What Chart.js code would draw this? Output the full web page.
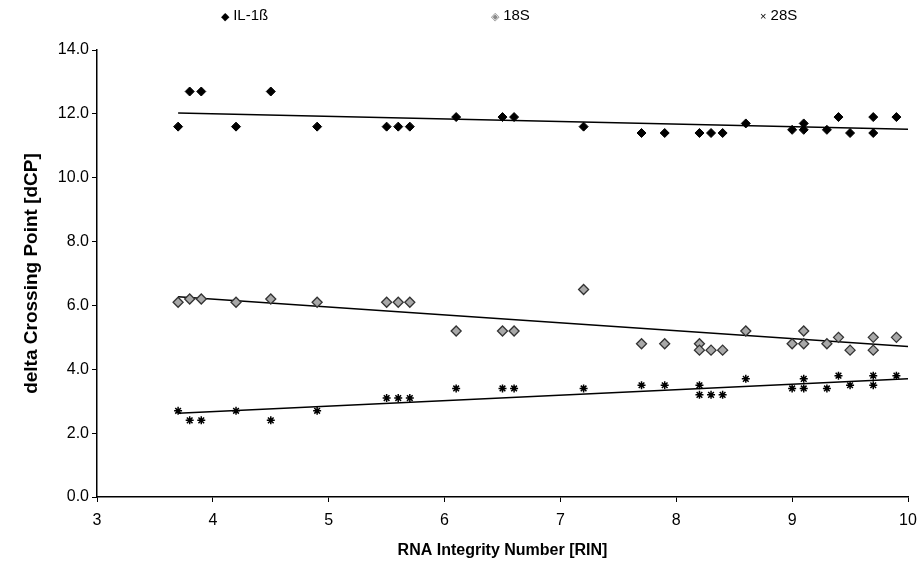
<!DOCTYPE html>
<html>
<head>
<meta charset="utf-8">
<script src="https://cdn.jsdelivr.net/npm/chart.js@4.4.1/dist/chart.umd.min.js"></script>
<style>
  body { margin: 0; background: #fff; }
  #wrap { position: relative; width: 921px; height: 568px; }
  #legend { position: absolute; top: 6px; left: 0; width: 921px; height: 20px;
            font-family: "Liberation Sans", Arial, sans-serif; font-size: 15px; color: #000; }
  #legend span { position: absolute; top: 0; white-space: nowrap; }
</style>
</head>
<body>
<div id="wrap">
  <canvas id="gameCanvas" width="921" height="568"></canvas>
  <div id="legend"></div>
</div>
<script>
const seriesNames = ['IL-1ß', '18S', '28S'];

const ilX = [3.7, 3.8, 3.9, 4.2, 4.5, 4.9, 5.5, 5.6, 5.7, 6.1, 6.5, 6.6, 7.2, 7.7, 7.9, 8.2, 8.3, 8.4, 8.6, 9.0, 9.1, 9.1, 9.3, 9.4, 9.5, 9.7, 9.7, 9.9];
const ilY = [11.6, 12.7, 12.7, 11.6, 12.7, 11.6, 11.6, 11.6, 11.6, 11.9, 11.9, 11.9, 11.6, 11.4, 11.4, 11.4, 11.4, 11.4, 11.7, 11.5, 11.7, 11.5, 11.5, 11.9, 11.4, 11.9, 11.4, 11.9];

const s18X = [3.7, 3.8, 3.9, 4.2, 4.5, 4.9, 5.5, 5.6, 5.7, 6.1, 6.5, 6.6, 7.2, 7.7, 7.9, 8.2, 8.2, 8.3, 8.4, 8.6, 9.0, 9.1, 9.1, 9.3, 9.4, 9.5, 9.7, 9.7, 9.9];
const s18Y = [6.1, 6.2, 6.2, 6.1, 6.2, 6.1, 6.1, 6.1, 6.1, 5.2, 5.2, 5.2, 6.5, 4.8, 4.8, 4.8, 4.6, 4.6, 4.6, 5.2, 4.8, 5.2, 4.8, 4.8, 5.0, 4.6, 5.0, 4.6, 5.0];

const s28X = [3.7, 3.8, 3.9, 4.2, 4.5, 4.9, 5.5, 5.6, 5.7, 6.1, 6.5, 6.6, 7.2, 7.7, 7.9, 8.2, 8.2, 8.3, 8.4, 8.6, 9.0, 9.1, 9.1, 9.3, 9.4, 9.5, 9.7, 9.7, 9.9];
const s28Y = [2.7, 2.4, 2.4, 2.7, 2.4, 2.7, 3.1, 3.1, 3.1, 3.4, 3.4, 3.4, 3.4, 3.5, 3.5, 3.5, 3.2, 3.2, 3.2, 3.7, 3.4, 3.7, 3.4, 3.4, 3.8, 3.5, 3.8, 3.5, 3.8];

// trendline end points
const trendX = [3.7, 10];
const ilTrend = [12.03, 11.52];
const s18Trend = [6.27, 4.71];
const s28Trend = [2.62, 3.70];

const xTicks = [3, 4, 5, 6, 7, 8, 9, 10];
const yTicks = [0, 2, 4, 6, 8, 10, 12, 14];

const toPoints = (xs, ys) => xs.map((x, i) => ({ x: x, y: ys[i] }));

const font = '"Liberation Sans", Arial, sans-serif';

const trendSet = (ys) => ({
  type: 'line',
  data: toPoints(trendX, ys),
  borderColor: '#000',
  borderWidth: 1.5,
  pointRadius: 0,
  fill: false,
});

const ctx = document.getElementById('gameCanvas').getContext('2d');

new Chart(ctx, {
  type: 'scatter',
  data: {
    datasets: [
      {
        label: seriesNames[0],
        data: toPoints(ilX, ilY),
        pointStyle: 'rectRot',
        pointRadius: 4.5,
        backgroundColor: '#000',
        borderColor: '#000',
        borderWidth: 1,
      },
      {
        label: seriesNames[1],
        data: toPoints(s18X, s18Y),
        pointStyle: 'rectRot',
        pointRadius: 5,
        backgroundColor: '#a8a8a8',
        borderColor: '#333',
        borderWidth: 1.3,
      },
      {
        label: seriesNames[2],
        data: toPoints(s28X, s28Y),
        pointStyle: 'star',
        pointRadius: 4,
        backgroundColor: '#000',
        borderColor: '#000',
        borderWidth: 1.5,
      },
      trendSet(ilTrend),
      trendSet(s18Trend),
      trendSet(s28Trend),
    ],
  },
  options: {
    responsive: false,
    animation: false,
    layout: { padding: { top: 50, right: 13, left: 20, bottom: 0 } },
    plugins: {
      legend: { display: false },
      tooltip: { enabled: false },
    },
    scales: {
      x: {
        type: 'linear',
        min: 3,
        max: 10,
        afterBuildTicks: (axis) => { axis.ticks = xTicks.map((v) => ({ value: v })); },
        afterFit: (axis) => {
          axis.height = 71;
          axis.paddingLeft = 0;
          axis.paddingRight = 0;
        },
        border: { color: '#000', width: 1.5 },
        grid: { drawOnChartArea: false, drawTicks: true, tickLength: 5, color: '#000', lineWidth: 1 },
        ticks: { color: '#000', font: { family: font, size: 16 }, padding: 9 },
        title: {
          display: true,
          text: 'RNA Integrity Number [RIN]',
          color: '#000',
          font: { family: font, size: 16, weight: 'bold' },
          padding: { top: 4, bottom: 8 },
        },
      },
      y: {
        min: 0,
        max: 14,
        afterBuildTicks: (axis) => { axis.ticks = yTicks.map((v) => ({ value: v })); },
        afterFit: (axis) => { axis.width = 77; },
        border: { color: '#000', width: 1.5 },
        grid: { drawOnChartArea: false, drawTicks: true, tickLength: 5, color: '#000', lineWidth: 1 },
        ticks: {
          color: '#000',
          font: { family: font, size: 16 },
          padding: 3,
          callback: (v) => Number(v).toFixed(1),
        },
        title: {
          display: true,
          text: 'delta Crossing Point [dCP]',
          color: '#000',
          font: { family: font, size: 19, weight: 'bold' },
          padding: { top: 0, bottom: 4 },
        },
      },
    },
  },
});

// legend spread across the top like the original
const legendPos = [221, 491, 760];
const legendMarks = ['◆', '◈', '×'];
const legendColors = ['#000', '#888', '#000'];
const legend = document.getElementById('legend');
seriesNames.forEach((name, i) => {
  const s = document.createElement('span');
  s.style.left = legendPos[i] + 'px';
  s.innerHTML = '<span style="position:static;color:' + legendColors[i] + ';font-size:11px">' + legendMarks[i] + '</span> ' + name;
  legend.appendChild(s);
});
</script>
</body>
</html>
